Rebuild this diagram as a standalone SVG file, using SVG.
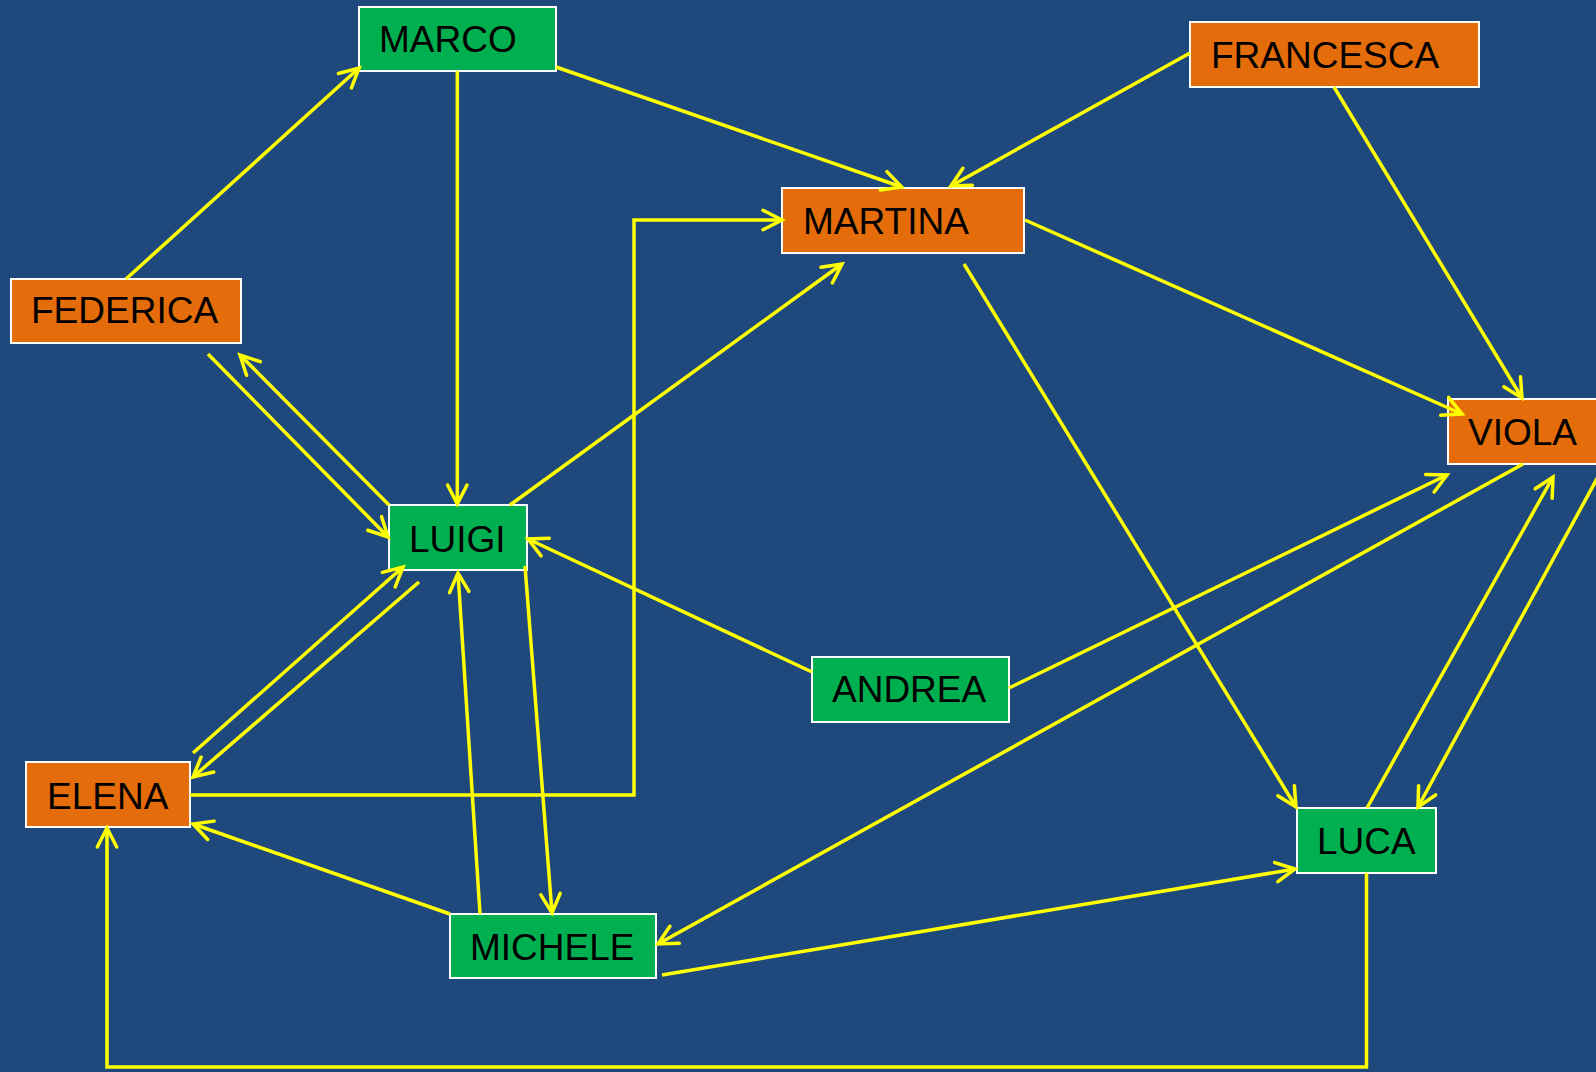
<svg xmlns="http://www.w3.org/2000/svg" width="1596" height="1072" viewBox="0 0 1596 1072">
  <defs>
    <style>
      .box { stroke: #FFFFFF; stroke-width: 2; }
      .o { fill: #E46C0A; }
      .g { fill: #00B050; }
      .lbl { font-family: "Liberation Sans", Arial, sans-serif; font-size: 37px; fill: #000000; }
      .c { fill: none; stroke: #FFFF00; stroke-width: 3.5; }
    </style>
    <marker id="arr" markerUnits="userSpaceOnUse" viewBox="-22 -12 24 24" refX="0" refY="0" markerWidth="24" markerHeight="24" orient="auto" overflow="visible">
      <path d="M -19,-9.7 L 0,0 L -19,9.7" fill="none" stroke="#FFFF00" stroke-width="3.5" stroke-linecap="round" stroke-linejoin="miter"/>
    </marker>
  </defs>
  <rect x="0" y="0" width="1596" height="1072" fill="#1F497D"/>

  <g id="node-marco">
    <rect class="box g" x="359" y="7" width="197" height="64"/>
    <text class="lbl" x="379" y="52">MARCO</text>
  </g>
  <g id="node-francesca">
    <rect class="box o" x="1190" y="22" width="289" height="65"/>
    <text class="lbl" x="1211" y="68">FRANCESCA</text>
  </g>
  <g id="node-martina">
    <rect class="box o" x="782" y="188" width="242" height="65"/>
    <text class="lbl" x="803" y="234">MARTINA</text>
  </g>
  <g id="node-federica">
    <rect class="box o" x="11" y="279" width="230" height="64"/>
    <text class="lbl" x="31" y="323">FEDERICA</text>
  </g>
  <g id="node-viola">
    <rect class="box o" x="1448" y="399" width="180" height="65"/>
    <text class="lbl" x="1468" y="445">VIOLA</text>
  </g>
  <g id="node-luigi">
    <rect class="box g" x="389" y="505" width="138" height="65"/>
    <text class="lbl" x="409" y="552">LUIGI</text>
  </g>
  <g id="node-andrea">
    <rect class="box g" x="812" y="657" width="197" height="65"/>
    <text class="lbl" x="832" y="702">ANDREA</text>
  </g>
  <g id="node-elena">
    <rect class="box o" x="26" y="762" width="164" height="65"/>
    <text class="lbl" x="47" y="809">ELENA</text>
  </g>
  <g id="node-luca">
    <rect class="box g" x="1297" y="808" width="139" height="65"/>
    <text class="lbl" x="1317" y="854">LUCA</text>
  </g>
  <g id="node-michele">
    <rect class="box g" x="450" y="914" width="206" height="64"/>
    <text class="lbl" x="470" y="960">MICHELE</text>
  </g>

  <g id="connectors">
    <line class="c" x1="126" y1="279" x2="359" y2="68" marker-end="url(#arr)"/>
    <line class="c" x1="457.3" y1="71" x2="457.3" y2="504" marker-end="url(#arr)"/>
    <line class="c" x1="556" y1="67" x2="901.7" y2="187" marker-end="url(#arr)"/>
    <line class="c" x1="1190" y1="53" x2="951" y2="186" marker-end="url(#arr)"/>
    <line class="c" x1="1334" y1="87" x2="1522" y2="398" marker-end="url(#arr)"/>
    <line class="c" x1="1025" y1="220" x2="1462" y2="414" marker-end="url(#arr)"/>
    <line class="c" x1="964" y1="264" x2="1296" y2="807" marker-end="url(#arr)"/>
    <line class="c" x1="510" y1="505" x2="842" y2="264" marker-end="url(#arr)"/>
    <polyline class="c" points="190,795 634,795 634,220 782,220" marker-end="url(#arr)"/>
    <line class="c" x1="208" y1="354" x2="388" y2="537" marker-end="url(#arr)"/>
    <line class="c" x1="389" y1="505" x2="240" y2="355" marker-end="url(#arr)"/>
    <line class="c" x1="193" y1="753" x2="403" y2="567" marker-end="url(#arr)"/>
    <line class="c" x1="419" y1="582" x2="193" y2="777" marker-end="url(#arr)"/>
    <line class="c" x1="812" y1="672" x2="528" y2="539" marker-end="url(#arr)"/>
    <line class="c" x1="1009" y1="688" x2="1447" y2="475" marker-end="url(#arr)"/>
    <line class="c" x1="480" y1="914" x2="458" y2="573" marker-end="url(#arr)"/>
    <line class="c" x1="525" y1="566" x2="552" y2="913" marker-end="url(#arr)"/>
    <line class="c" x1="450" y1="914" x2="193" y2="824" marker-end="url(#arr)"/>
    <line class="c" x1="1523" y1="464" x2="658" y2="944" marker-end="url(#arr)"/>
    <line class="c" x1="662" y1="975" x2="1295" y2="869" marker-end="url(#arr)"/>
    <line class="c" x1="1367" y1="808" x2="1553" y2="477" marker-end="url(#arr)"/>
    <line class="c" x1="1605" y1="464" x2="1418" y2="807" marker-end="url(#arr)"/>
    <polyline class="c" points="1366.5,873 1366.5,1067 107,1067 107,828" marker-end="url(#arr)"/>
  </g>
</svg>
